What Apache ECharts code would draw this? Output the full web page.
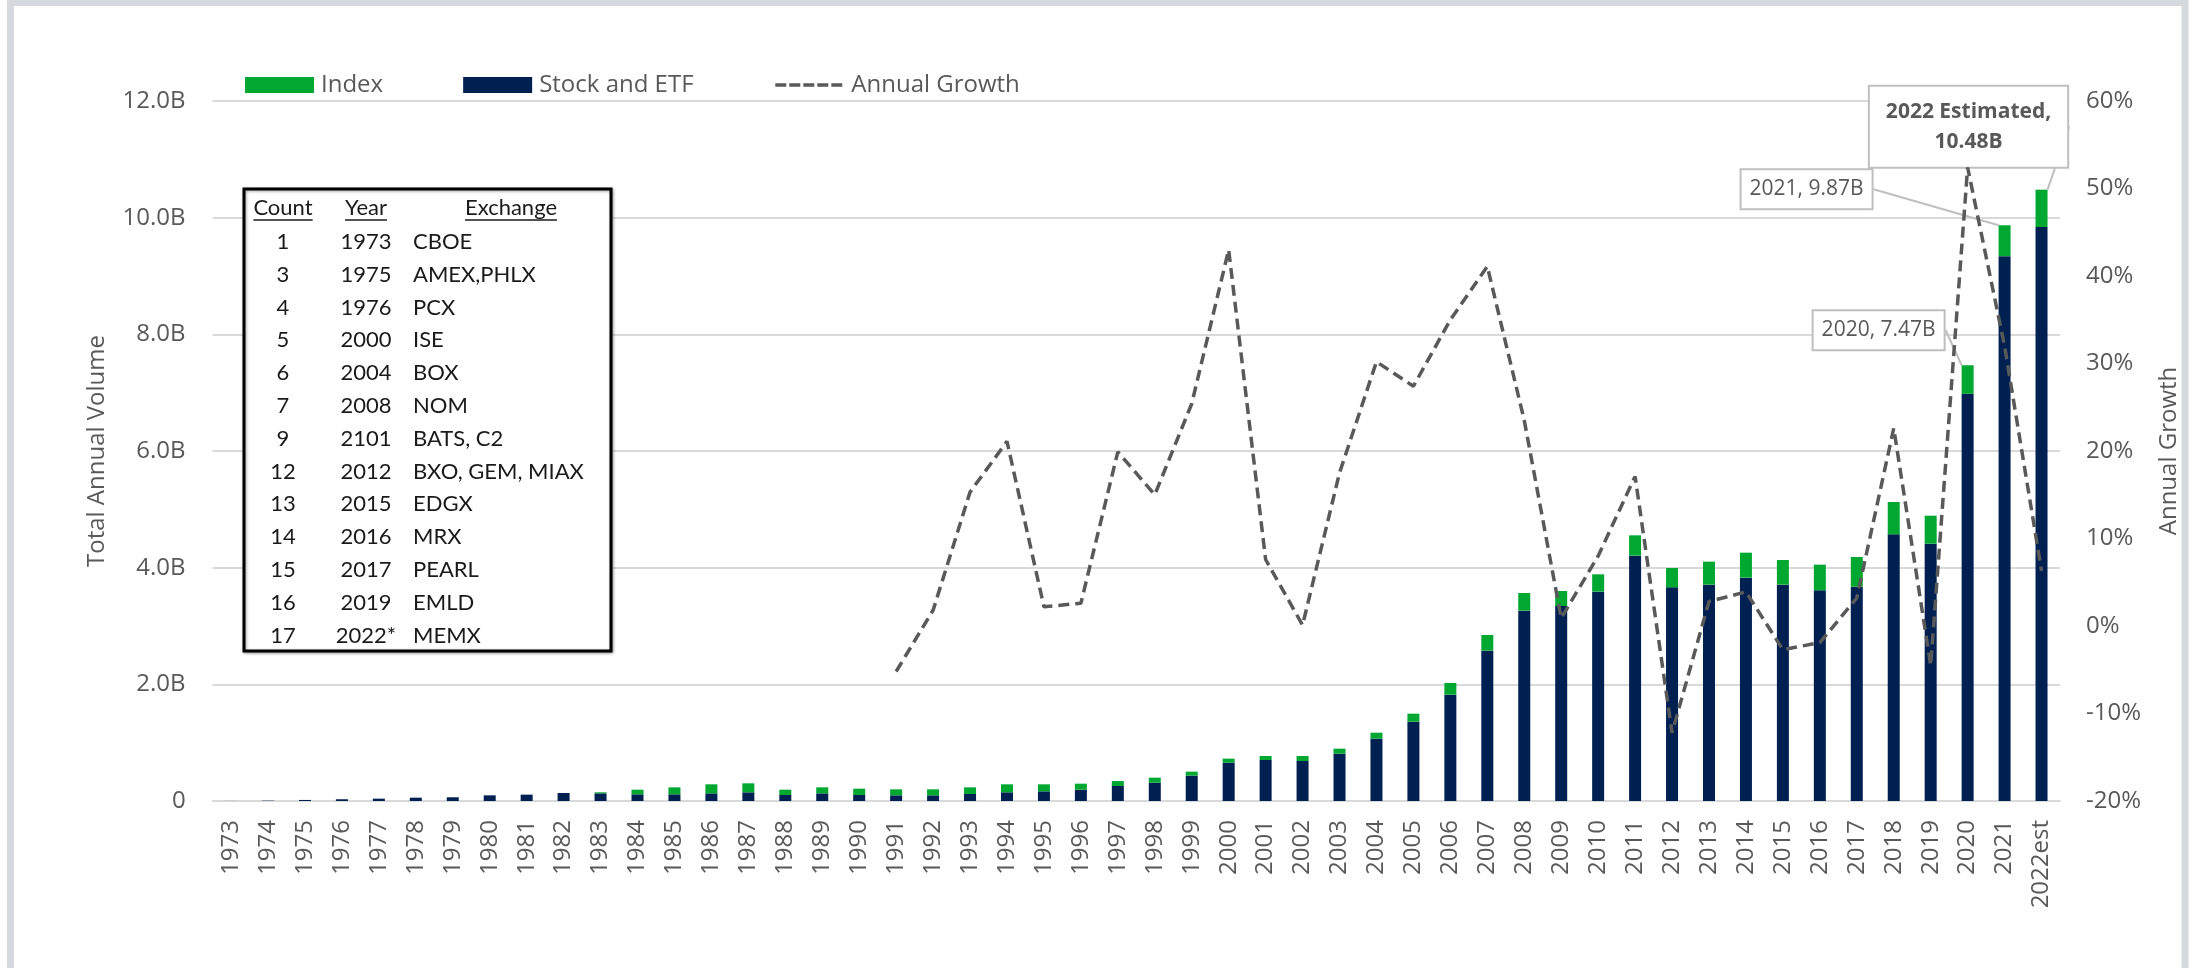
<!DOCTYPE html>
<html>
<head>
<meta charset="utf-8">
<script src="https://cdn.jsdelivr.net/npm/echarts@6/dist/echarts.min.js"></script>
<style>
  html, body { margin: 0; padding: 0; background: #ffffff; }
  #chart { width: 2196px; height: 968px; }
</style>
</head>
<body>
<div id="chart"></div>
<script>
// ---------------- DATA ----------------
const years = ['1973','1974','1975','1976','1977','1978','1979','1980','1981','1982',
  '1983','1984','1985','1986','1987','1988','1989','1990','1991','1992',
  '1993','1994','1995','1996','1997','1998','1999','2000','2001','2002',
  '2003','2004','2005','2006','2007','2008','2009','2010','2011','2012',
  '2013','2014','2015','2016','2017','2018','2019','2020','2021','2022est'];

// Stock and ETF volume (billions of contracts)
const stockEtf = [0.001,0.006,0.018,0.030,0.040,0.057,0.064,0.097,0.109,0.137,
  0.131,0.114,0.114,0.131,0.149,0.103,0.131,0.103,0.097,0.097,
  0.120,0.149,0.166,0.194,0.257,0.314,0.434,0.657,0.703,0.686,
  0.811,1.069,1.360,1.823,2.577,3.263,3.343,3.589,4.206,3.663,
  3.709,3.829,3.709,3.611,3.674,4.571,4.411,6.98,9.34,9.84];

// Index volume (billions of contracts)
const indexVol = [0,0,0,0,0,0,0,0,0,0,
  0.018,0.080,0.120,0.155,0.154,0.091,0.103,0.108,0.103,0.103,
  0.114,0.137,0.120,0.103,0.086,0.086,0.069,0.069,0.068,0.085,
  0.086,0.102,0.137,0.200,0.269,0.303,0.257,0.297,0.348,0.331,
  0.394,0.428,0.422,0.440,0.509,0.555,0.480,0.49,0.53,0.64];

// Annual growth (%)
const growth = [null,null,null,null,null,null,null,null,null,null,
  null,null,null,null,null,null,null,null,-5.2,1.8,
  15.3,21.1,2.2,2.6,19.9,15.0,25.4,43.0,7.6,0.1,
  17.5,30.2,27.4,35.0,41.1,23.5,0.9,8.0,17.1,-12.2,
  2.8,3.9,-2.7,-1.9,3.2,22.6,-4.5,52.4,32.0,6.3];

// Left axis ticks (billions) and right axis ticks (%)
const volTicks = [0, 2, 4, 6, 8, 10, 12];
const growthTicks = [-20, -10, 0, 10, 20, 30, 40, 50, 60];

// Callouts
const calloutYears = ['2020', '2021', '2022est'];
const calloutPrefix = ['2020, ', '2021, ', '2022 Estimated,\n'];

// Exchange table
const tableCount = ['1','3','4','5','6','7','9','12','13','14','15','16','17'];
const tableYear = ['1973','1975','1976','2000','2004','2008','2101','2012','2015','2016','2017','2019','2022*'];
const tableExchange = ['CBOE','AMEX,PHLX','PCX','ISE','BOX','NOM','BATS, C2','BXO, GEM, MIAX','EDGX','MRX','PEARL','EMLD','MEMX'];
const tableHeaders = ['Count', 'Year', 'Exchange'];

// ---------------- STYLE ----------------
const FONT = "'Open Sans', 'DejaVu Sans', sans-serif";
const TFONT = "Lato, 'Open Sans', sans-serif";
const GRAY = '#595959';
const GREEN = '#00A831';
const NAVY = '#002052';

const chart = echarts.init(document.getElementById('chart'), null, { renderer: 'canvas' });

// callout offsets (from default 'top' label position)
const calloutDx = [-89, -198, -73];
const calloutDy = [-11, -12, -18];

const indexData = indexVol.map((v, i) => {
  const k = calloutYears.indexOf(years[i]);
  if (k < 0) return v;
  const bold = k === 2;
  return {
    value: v,
    label: {
      show: true,
      position: 'top',
      distance: 5,
      formatter: () => calloutPrefix[k] + (stockEtf[i] + indexVol[i]).toFixed(2) + 'B',
      backgroundColor: '#ffffff',
      borderColor: '#bfbfbf',
      borderWidth: 2,
      padding: bold ? [10, 16] : [5, 8],
      color: GRAY,
      fontFamily: FONT,
      fontSize: 21,
      lineHeight: bold ? 30 : 28,
      fontWeight: bold ? 'bold' : 'normal',
      align: 'center'
    }
  };
});

// measure text for underline
const mctx = document.createElement('canvas').getContext('2d');
function textW(t, size) { mctx.font = size + 'px Lato'; return mctx.measureText(t).width; }

const graphics = [];
// outer gray frame
graphics.push({
  type: 'rect', silent: true, z: 100,
  shape: { x: 10.5, y: 2.5, width: 2174.5, height: 1000 },
  style: { fill: null, stroke: '#d5d8dc', lineWidth: 7 }
});
// table box
const TB = { x: 244, y: 189, w: 367, h: 462 };
graphics.push({
  type: 'rect', z: 50,
  shape: { x: TB.x, y: TB.y, width: TB.w, height: TB.h },
  style: { fill: '#ffffff', stroke: '#000000', lineWidth: 3,
           shadowBlur: 3, shadowColor: 'rgba(0,0,0,0.35)', shadowOffsetX: 1, shadowOffsetY: 1 }
});
const colX = [283, 366, 511];
const headerY = 208;
const TSIZE = 22;
tableHeaders.forEach((h, c) => {
  graphics.push({
    type: 'text', z: 51,
    style: { text: h, x: colX[c], y: headerY, align: 'center', verticalAlign: 'middle',
             font: TSIZE + 'px ' + TFONT, fill: '#1a1a1a' }
  });
  const w = textW(h, TSIZE);
  graphics.push({
    type: 'line', z: 51,
    shape: { x1: colX[c] - w / 2, y1: headerY + 12, x2: colX[c] + w / 2, y2: headerY + 12 },
    style: { stroke: '#1a1a1a', lineWidth: 1.5 }
  });
});
const rowY0 = 242, rowStep = 32.8;
tableCount.forEach((cnt, r) => {
  const y = rowY0 + r * rowStep;
  graphics.push({ type: 'text', z: 51, style: { text: cnt, x: colX[0], y, align: 'center', verticalAlign: 'middle', font: TSIZE + 'px ' + TFONT, fill: '#1a1a1a' } });
  graphics.push({ type: 'text', z: 51, style: { text: tableYear[r], x: colX[1], y, align: 'center', verticalAlign: 'middle', font: TSIZE + 'px ' + TFONT, fill: '#1a1a1a' } });
  graphics.push({ type: 'text', z: 51, style: { text: tableExchange[r], x: 413, y, align: 'left', verticalAlign: 'middle', font: TSIZE + 'px ' + TFONT, fill: '#1a1a1a' } });
});

const option = {
  backgroundColor: '#ffffff',
  animation: false,
  textStyle: { fontFamily: FONT },
  legend: {
    data: [
      { name: 'Index', icon: 'rect' },
      { name: 'Stock and ETF', icon: 'rect' },
      { name: 'Annual Growth', itemStyle: { opacity: 0 }, lineStyle: { type: [11, 3], width: 3.5, color: GRAY } }
    ],
    left: 245, top: 73,
    itemWidth: 69, itemHeight: 16, itemGap: 80,
    padding: 0,
    textStyle: { fontFamily: FONT, fontSize: 24, color: GRAY, padding: [0, 0, 0, 2] }
  },
  grid: { left: 212.6, right: 136, top: 101, bottom: 167, containLabel: false },
  xAxis: {
    type: 'category',
    data: years,
    axisLine: { lineStyle: { color: '#d9d9d9', width: 2 } },
    axisTick: { show: false },
    axisLabel: { interval: 0, rotate: 90, margin: 19, fontFamily: FONT, fontSize: 24, color: GRAY }
  },
  yAxis: [
    {
      type: 'value', min: volTicks[0], max: volTicks[volTicks.length - 1], interval: 2,
      name: 'Total Annual Volume', nameLocation: 'middle', nameRotate: 90, nameGap: 103,
      nameTextStyle: { fontFamily: FONT, fontSize: 24, color: GRAY },
      axisLine: { show: false }, axisTick: { show: false },
      axisLabel: { margin: 27, fontFamily: FONT, fontSize: 24, color: GRAY,
        formatter: v => v === 0 ? '0' : v.toFixed(1) + 'B' },
      splitLine: { lineStyle: { color: '#d9d9d9', width: 2 } }
    },
    {
      type: 'value', min: growthTicks[0], max: growthTicks[growthTicks.length - 1], interval: 10,
      position: 'right',
      name: 'Annual Growth', nameLocation: 'middle', nameRotate: 90, nameGap: 97,
      nameTextStyle: { fontFamily: FONT, fontSize: 24, color: GRAY },
      axisLine: { show: false }, axisTick: { show: false },
      axisLabel: { margin: 26, fontFamily: FONT, fontSize: 24, color: GRAY, formatter: v => v + '%' },
      splitLine: { show: false }
    }
  ],
  series: [
    {
      name: 'Stock and ETF', type: 'bar', stack: 'vol', barWidth: 12,
      itemStyle: { color: NAVY },
      data: stockEtf, z: 2
    },
    {
      name: 'Index', type: 'bar', stack: 'vol', barWidth: 12,
      itemStyle: { color: GREEN },
      data: indexData, z: 3,
      labelLine: { show: true, lineStyle: { color: '#bfbfbf', width: 2 } },
      labelLayout: function (p) {
        const k = calloutYears.indexOf(years[p.dataIndex]);
        if (k < 0) return {};
        return { dx: calloutDx[k], dy: calloutDy[k] };
      }
    },
    {
      name: 'Annual Growth', type: 'line', yAxisIndex: 1,
      data: growth, symbol: 'none', showSymbol: false, z: 5,
      lineStyle: { color: GRAY, width: 3.5, type: [11, 6] },
      itemStyle: { color: GRAY }
    }
  ],
  graphic: graphics
};
chart.setOption(option);
</script>
</body>
</html>
